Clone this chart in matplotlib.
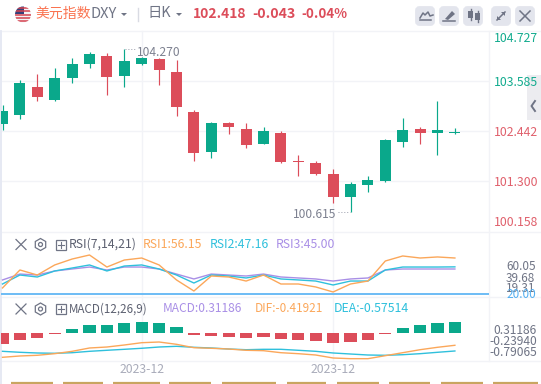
import matplotlib
matplotlib.use("Agg")
import matplotlib.pyplot as plt
from matplotlib.patches import Rectangle, FancyBboxPatch, Circle, RegularPolygon, Polygon

plt.rcParams['font.family'] = ['Noto Sans CJK SC', 'DejaVu Sans']

# ---- data ----
idx = list(range(27))
opens = [102.603,102.809,103.448,103.151,103.654,103.973,104.156,103.699,103.973,104.087,103.791,102.877,101.963,102.626,102.489,102.146,102.397,101.758,101.712,101.461,100.936,101.210,101.301,102.192,102.489,102.397,102.397]
closes= [102.900,103.539,103.220,103.654,103.973,104.202,103.676,104.042,104.110,103.836,102.991,101.940,102.626,102.534,102.123,102.443,101.735,101.745,101.461,100.936,101.233,101.324,102.237,102.466,102.397,102.466,102.420]
highs = [103.037,103.608,103.745,103.882,104.110,104.247,104.225,104.316,104.133,104.110,104.065,102.923,102.649,102.649,102.626,102.534,102.443,101.895,101.758,101.575,101.278,101.415,102.260,102.740,102.534,103.128,102.512]
lows  = [102.466,102.717,103.128,103.128,103.539,103.882,103.265,103.448,103.950,103.494,102.786,101.758,101.826,102.375,102.055,102.146,101.712,101.415,101.438,100.798,100.593,101.050,101.278,102.078,102.146,101.895,102.375]
price_ticks = ["104.727","103.585","102.442","101.300","100.158"]
tick_colors = ["#12ab8e","#12ab8e","#e0606c","#e0606c","#e0606c"]

rsi1 = [25.8,44.0,38.9,49.1,55.1,59.2,47.0,54.1,56.15,49.1,33.9,22.7,37.9,36.9,32.8,38.9,29.8,29.8,26.8,21.7,29.8,32.8,53.1,58.2,56.15,57.2,56.15]
rsi2 = [29.8,38.9,36.9,43.0,46.0,49.1,43.0,48.0,49.1,45.0,38.9,30.8,38.9,37.9,35.9,38.9,34.9,33.9,32.8,28.8,32.8,32.8,44.0,47.0,47.0,47.0,47.16]
rsi3 = [33.9,39.9,38.9,43.0,45.0,47.0,44.0,47.0,47.0,45.0,39.9,34.9,39.9,38.9,37.9,39.9,36.9,35.9,34.9,32.8,34.9,35.9,44.0,45.0,45.0,45.0,45.00]
rsi_floor = 20.0

macd_hist = [-0.312,-0.198,-0.142,-0.028,0.113,0.227,0.227,0.284,0.312,0.284,0.170,-0.057,-0.085,-0.113,-0.142,-0.113,-0.170,-0.198,-0.227,-0.284,-0.255,-0.198,-0.028,0.142,0.227,0.284,0.312]
dif = [-0.748,-0.712,-0.693,-0.649,-0.584,-0.493,-0.466,-0.411,-0.348,-0.329,-0.392,-0.485,-0.501,-0.521,-0.556,-0.567,-0.622,-0.649,-0.685,-0.767,-0.786,-0.786,-0.704,-0.622,-0.540,-0.474,-0.419]
dea = [-0.584,-0.611,-0.630,-0.638,-0.622,-0.584,-0.556,-0.529,-0.501,-0.466,-0.447,-0.474,-0.493,-0.521,-0.540,-0.529,-0.529,-0.556,-0.584,-0.630,-0.658,-0.685,-0.693,-0.677,-0.649,-0.611,-0.575]
date_labels = ["2023-12","2023-12"]
date_idx = [8,19]

GREEN = "#0aa88b"; RED = "#dc4d5a"; GRID = "#f2f3f7"
ORANGE = "#fba75a"; CYAN = "#2fc0dc"; PURPLE = "#a98fe6"; GREY = "#6f7485"

W, H = 541, 384
fig = plt.figure(figsize=(W/100, H/100), dpi=100, facecolor="white")

def panel(x0, x1, ytop, ybot, z=1):
    ax = fig.add_axes([x0/W, 1-ybot/H, (x1-x0)/W, (ybot-ytop)/H], zorder=z)
    ax.patch.set_alpha(0)
    ax.set_xticks([]); ax.set_yticks([])
    for s in ax.spines.values():
        s.set_visible(False)
    ax.set_xlim((x0-2.5)/17.4, (x1-2.5)/17.4)
    return ax

# chrome layer in pixel coordinates
bg = fig.add_axes([0, 0, 1, 1], zorder=0)
bg.set_xlim(0, W); bg.set_ylim(H, 0); bg.axis("off")
for y in [31, 81, 131, 181, 232, 297, 361]:
    bg.plot([2, 489 if y not in (31, 232, 297, 361) else 541], [y, y], color=GRID, lw=1)
for x in [141.5, 333.3]:
    bg.plot([x, x], [31, 361], color=GRID, lw=1)
bg.plot([489, 489], [31, 361], color=GRID, lw=1)
bg.plot([0.8, 0.8], [31, 384], color="#e4e7f2", lw=1.3)
bg.add_patch(Rectangle((527, 75), 14, 45, fc="#ececf0", ec="none"))
bg.plot([535, 531.5, 535], [101, 106, 111], color=GREY, lw=1.4)

# header
flag = Circle((23, 14.5), 8, fc="#f4f4f6", ec="none")
bg.add_patch(flag)
for yy in [7.5, 11, 14.5, 18, 21]:
    bg.plot([15, 31], [yy, yy], color="#d5424f", lw=1.1, clip_path=flag)
canton = Rectangle((15, 6), 8.5, 8, fc="#35407a", ec="none")
bg.add_patch(canton); canton.set_clip_path(flag)
bg.text(35, 13.5, "美元指数", color="#fa7350", fontsize=10.0, va="center")
bg.text(91, 14.5, "DXY", color=GREY, fontsize=10.5, va="center")
bg.add_patch(Polygon([[121, 13], [127, 13], [124, 16]], fc=GREY))
bg.plot([137.5, 137.5], [8, 21], color="#d9dbe3", lw=1)
bg.text(147, 13.5, "日K", color=GREY, fontsize=10.3, va="center")
bg.add_patch(Polygon([[176, 13], [182, 13], [179, 16]], fc=GREY))
bg.text(192.5, 13.5, "102.418", color=RED, fontsize=10.0, fontweight="bold", va="center")
bg.text(252, 13.5, "-0.043", color=RED, fontsize=10.2, fontweight="bold", va="center")
bg.text(301.5, 13.5, "-0.04%", color=RED, fontsize=9.6, fontweight="bold", va="center")

# toolbar buttons
for x0 in [415, 439, 463, 491, 515]:
    bg.add_patch(FancyBboxPatch((x0+1.5, 7.5), 17, 17, boxstyle="round,pad=0,rounding_size=3",
                                mutation_scale=1, fc="#e3e5ed", ec="#e3e5ed", lw=2))
bg.plot([420, 423, 425, 428, 430, 433], [18, 13, 15, 12, 16, 15], color=GREY, lw=1.1)
bg.plot([420, 431], [20, 20], color=GREY, lw=1.1)
bg.add_patch(Polygon([[445, 19], [452, 11], [455, 14], [448, 20]], fc=GREY))
bg.plot([443, 455], [21, 21], color=GREY, lw=1.1)
bg.add_patch(Rectangle((468, 11), 5, 7, fc=GREY)); bg.plot([470.5, 470.5], [9, 20], color=GREY, lw=1)
bg.add_patch(Rectangle((475, 13), 5, 7, fc=GREY)); bg.plot([477.5, 477.5], [11, 22], color=GREY, lw=1)
bg.plot([497, 505], [20, 12], color=GREY, lw=1.1)
bg.add_patch(Polygon([[501, 12], [505, 12], [505, 16]], fc=GREY))
bg.add_patch(Polygon([[497, 16], [497, 20], [501, 20]], fc=GREY))
bg.plot([520, 530], [11, 21], color=GREY, lw=1.1); bg.plot([530, 520], [11, 21], color=GREY, lw=1.1)

# price panel
ax = panel(1, 489, 31, 231, 2)
ax.set_ylim(104.727-200/43.78, 104.727)
for i, o, h, l, c in zip(idx, opens, highs, lows, closes):
    col = GREEN if c >= o else RED
    ax.plot([i, i], [l, h], color=col, lw=0.85, solid_capstyle="butt")
    ax.bar(i, max(abs(c-o), 0.02), bottom=min(o, c), width=0.64, color=col, lw=0)
ys = [38, 82, 132, 183, 223]
for lab, col, y in zip(price_ticks, tick_colors, ys):
    bg.text(494, y, lab, color=col, fontsize=8.8, va="center")
bg.text(137, 52.5, "104.270", color="#7d8190", fontsize=8.7, va="center")
bg.plot([125, 136], [49, 49], color="#9a9dab", lw=0.7, ls=(0, (1, 2)))
bg.text(292.5, 214.5, "100.615", color="#7d8190", fontsize=8.7, va="center")
bg.plot([338, 350], [212, 212], color="#9a9dab", lw=0.7, ls=(0, (1, 2)))

# RSI panel
def icons(y):
    bg.plot([16, 26], [y-5, y+5], color=GREY, lw=0.9)
    bg.plot([26, 16], [y-5, y+5], color=GREY, lw=0.9)
    bg.add_patch(RegularPolygon((40.5, y), 6, radius=6, fc="none", ec=GREY, lw=0.9))
    bg.add_patch(Circle((40.5, y), 2, fc="none", ec=GREY, lw=0.9))
    bg.add_patch(Rectangle((55.5, y-5), 10, 10, fc="none", ec=GREY, lw=0.9))
    bg.plot([57.5, 63.5], [y, y], color=GREY, lw=0.8)
    bg.plot([60.5, 60.5], [y-3, y+3], color=GREY, lw=0.8)

icons(244.5)
bg.text(69, 244.5, "RSI(7,14,21)", color="#5c6070", fontsize=8.8, va="center")
bg.text(143, 244.5, "RSI1:56.15", color=ORANGE, fontsize=8.8, va="center")
bg.text(210, 244.5, "RSI2:47.16", color=CYAN, fontsize=8.8, va="center")
bg.text(276, 244.5, "RSI3:45.00", color=PURPLE, fontsize=8.8, va="center")

rax = panel(1, 489, 233, 296, 2)
rax.set_ylim(317.66-1.0136*296, 317.66-1.0136*233)
rax.plot(idx, rsi3, color=PURPLE, lw=1.0)
rax.plot(idx, rsi2, color=CYAN, lw=1.0)
rax.plot(idx, rsi1, color=ORANGE, lw=1.0)
rax.axhline(rsi_floor, color="#6cbcf5", lw=1.4)
for lab, y, col in [("60.05", 266, GREY), ("39.68", 278, GREY), ("19.31", 289, GREY), ("20.00", 294, "#52aef0")]:
    bg.text(506, y, lab, color=col, fontsize=8.5, va="center")

# MACD panel
icons(309)
bg.text(69, 309, "MACD(12,26,9)", color="#5c6070", fontsize=8.4, va="center")
bg.text(162.5, 309, "MACD:0.31186", color=PURPLE, fontsize=8.6, va="center")
bg.text(255, 309, "DIF:-0.41921", color=ORANGE, fontsize=8.5, va="center")
bg.text(334, 309, "DEA:-0.57514", color=CYAN, fontsize=8.9, va="center")

hax = panel(1, 489, 298, 361, 2)
hax.set_ylim((333-361)*0.02835, (333-298)*0.02835)
hax.bar(idx, macd_hist, width=0.69, color=[GREEN if v > 0 else RED for v in macd_hist], lw=0)
lax = panel(1, 489, 298, 361, 3)
lax.set_ylim(9.042-0.0274*361, 9.042-0.0274*298)
lax.plot(idx, dea, color=CYAN, lw=1.0)
lax.plot(idx, dif, color=ORANGE, lw=1.0)
for lab, y in [("0.31186", 331), ("-0.23940", 341.5), ("-0.79065", 353)]:
    bg.text(537, y, lab, color=GREY, fontsize=8.7, va="center", ha="right")

# date axis
for i, lab in zip(date_idx, date_labels):
    bg.text(2.5+17.4*i, 369.5, lab, color="#a9acba", fontsize=8.8, va="center", ha="center")

# clipped strip at the bottom
for a, b in [(11, 53), (63, 103), (113, 160), (169, 211), (222, 276), (287, 326), (337, 379), (389, 430), (441, 483), (493, 538)]:
    bg.plot([a, b], [383.2, 383.2], color="#c9a561", lw=1.6, solid_capstyle="butt")

fig.savefig("out.png", dpi=100)
